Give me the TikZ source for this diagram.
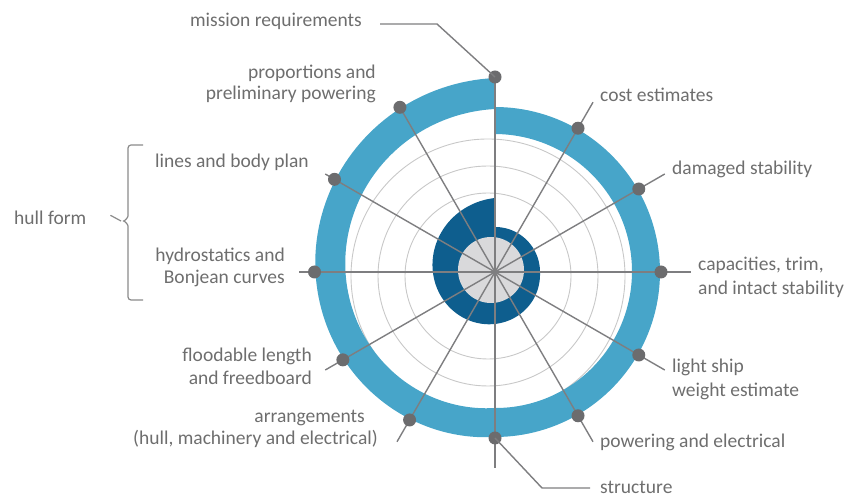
\documentclass[tikz,border=0pt]{standalone}
\usepackage{fontspec}
\setmainfont{Carlito}
\definecolor{ringblue}{HTML}{47A5C9}
\definecolor{coreblue}{HTML}{0E5E8E}
\definecolor{coregrey}{HTML}{D9D9DB}
\definecolor{spokegrey}{HTML}{7E7E80}
\definecolor{gridgrey}{HTML}{C8C8C8}
\definecolor{labelgrey}{HTML}{6E6E6E}
\definecolor{dotgrey}{HTML}{6C6C6E}
\begin{document}
\begin{tikzpicture}[x=1pt,y=1pt,
  declare function={
    Rout(\t)=165+29*max(0,\t-180)/180;
    Rin(\t)=Rout(\t)-27-4*\t/360;
    Dout(\t)=45+29*(max(0.001,(\t-90)/270))^1.3;
  },
  lbl/.style={font=\fontsize{19.5}{23}\selectfont, text=labelgrey, inner sep=0pt},
  dot/.style={circle, fill=dotgrey, minimum size=13pt, inner sep=0pt},
  spokeline/.style={draw=spokegrey, line width=1.4pt},
  leader/.style={draw=spokegrey, line width=1.4pt},
  gridline/.style={draw=gridgrey, line width=0.9pt},
  bracket/.style={draw=labelgrey!80, line width=1.2pt, rounded corners=3pt}]

\useasboundingbox (0,0) rectangle (859,498);
\coordinate (C) at (495,226);

% concentric guide circles
\foreach \r in {83,110,137} \draw[gridline] (488,222) circle (\r);

\begin{scope}[shift={(C)}]
  % outer spiral band
  \fill[ringblue] plot[variable=\t,domain=0:360,samples=181] ({90-\t}:{Rout(\t)})
    -- plot[variable=\t,domain=360:0,samples=181] ({90-\t}:{Rin(\t)}) -- cycle;
  % inner spiral core
  \fill[coreblue] (0,0) -- plot[variable=\t,domain=0:360,samples=181] ({90-\t}:{Dout(\t)}) -- cycle;
  \fill[coregrey] (-4,2) circle (33);
  % spoke ends and dots
  \foreach \i in {0,...,11} {
    \pgfmathsetmacro{\t}{30*\i}
    \pgfmathsetmacro{\tt}{\i==0 ? 360 : \t}
    \coordinate (e\i) at ({90-\t}:196);
    \coordinate (p\i) at ({90-\t}:{Rout(\tt)+1});
  }
\end{scope}

% spokes
\draw[spokeline] (C) -- (p0);
\foreach \i in {1,...,11} \draw[spokeline] (C) -- (e\i);

% dots
\foreach \i in {0,...,11} \node[dot] (d\i) at (p\i) {};

% leaders to the two labels at top and bottom
\coordinate (mk) at (437,474);
\coordinate (mend) at (380,474);
\draw[leader] (d0.center) -- (mk) -- (mend);
\coordinate (sk) at (542,10);
\coordinate (send) at (590,10);
\draw[leader] (d6.center) -- (sk) -- (send);

% labels
\node[lbl, anchor=base east] (mission) at (362,471) {mission requirements};
\node[lbl, anchor=base east] (prop1) at (376,419) {proportions and};
\node[lbl, anchor=base east] (prop2) at (376,398) {preliminary powering};
\node[lbl, anchor=base west] (lines) at (155,330) {lines and body plan};
\node[lbl, anchor=base east] (hydro1) at (285,236) {hydrostatics and};
\node[lbl, anchor=base east] (hydro2) at (285,214) {Bonjean curves};
\node[lbl, anchor=base west] (hull) at (14,273) {hull form};
\node[lbl, anchor=base west] (cost) at (600,396) {cost estimates};
\node[lbl, anchor=base west] (damaged) at (672,323) {damaged stability};
\node[lbl, anchor=base west] (cap1) at (698,227) {capacities, trim,};
\node[lbl, anchor=base west] (cap2) at (698,203) {and intact stability};
\node[lbl, anchor=base west] (light1) at (672,125) {light ship};
\node[lbl, anchor=base west] (light2) at (672,101) {weight estimate};
\node[lbl, anchor=base west] (powering) at (600,51) {powering and electrical};
\node[lbl, anchor=base west] (structure) at (600,5) {structure};
\node[lbl, anchor=base east] (arr1) at (365,75) {arrangements};
\node[lbl, anchor=base east] (arr2) at (378,53) {(hull, machinery and electrical)};
\node[lbl, anchor=base east] (flood1) at (312,136) {floodable length};
\node[lbl, anchor=base east] (flood2) at (312,113) {and freedboard};

% bracket grouping the hull form steps
\coordinate (btop) at (143,353);
\coordinate (bbot) at (143,198);
\coordinate (btip) at (121,277);
\draw[bracket] (btop) -- (128,353) -- (128,285)
  .. controls (128,280) and (124,277) .. (btip)
  .. controls (124,277) and (128,274) .. (128,269) -- (128,198) -- (bbot);
\draw[draw=labelgrey!80, line width=1.2pt] (hull.east) ++(24,3) -- (btip);
\end{tikzpicture}
\end{document}
